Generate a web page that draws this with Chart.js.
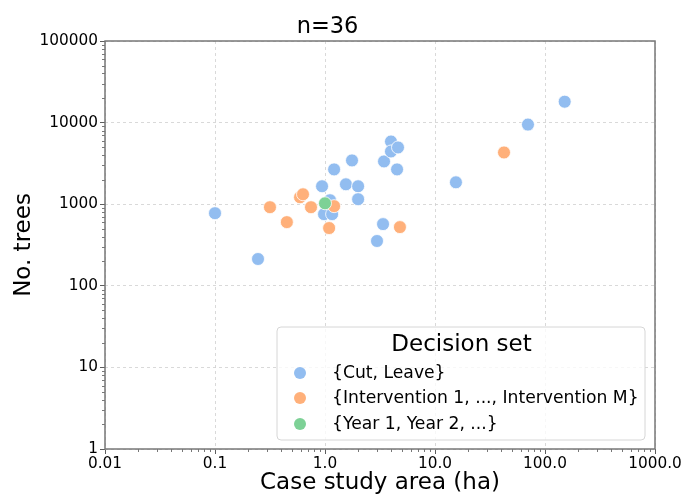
<!DOCTYPE html>
<html><head><meta charset="utf-8">
<script src="https://cdn.jsdelivr.net/npm/chart.js@4"></script>
<style>html,body{margin:0;padding:0;background:#fff}</style>
</head><body>
<canvas id="c" width="683" height="494" style="width:683px;height:494px;display:block"></canvas>
<script>
const xTickValues = [0.01, 0.1, 1, 10, 100, 1000];
const xTickLabels = ['0.01', '0.1', '1.0', '10.0', '100.0', '1000.0'];
const yTickValues = [1, 10, 100, 1000, 10000, 100000];
const yTickLabels = ['1', '10', '100', '1000', '10000', '100000'];

const seriesNames = ['{Cut, Leave}', '{Intervention 1, ..., Intervention M}', '{Year 1, Year 2, ...}'];
const seriesColors = ['#92bdf0', '#ffb07a', '#7dd196'];

const cutLeaveArea  = [0.1, 0.246, 0.94, 0.98, 1.16, 1.11, 1.21, 1.76, 1.55, 2.0, 2.0, 3.37, 2.97, 3.44, 3.98, 3.98, 4.61, 4.52, 15.5, 70, 151];
const cutLeaveTrees = [776, 213, 1660, 755, 755, 1119, 2670, 3440, 1754, 1660, 1151, 570, 354, 3345, 5865, 4430, 4960, 2670, 1855, 9460, 18030];

const interventionArea  = [1.21, 1.09, 0.45, 0.316, 0.746, 0.593, 0.631, 4.8, 42.4];
const interventionTrees = [946, 510, 603, 919, 919, 1217, 1324, 524, 4305];

const yearArea  = [1.0];
const yearTrees = [1026];

const toPts = (xs, ys) => xs.map((x, i) => ({x: x, y: ys[i]}));

const FONT = "'DejaVu Sans', sans-serif";

const framePlugin = {
  id: 'frame',
  afterDatasetsDraw(chart) {
    const ctx = chart.ctx;
    const {left, right, top, bottom} = chart.chartArea;
    const xs = chart.scales.x, ys = chart.scales.y;
    ctx.save();
    ctx.strokeStyle = '#555';
    ctx.lineWidth = 0.8;
    ctx.beginPath();
    for (let d = 0.01; d < 999; d *= 10) {
      for (let k = 2; k <= 9; k++) {
        const px = Math.round(xs.getPixelForValue(k * d)) + 0.5;
        ctx.moveTo(px, bottom); ctx.lineTo(px, bottom + 3);
      }
    }
    for (let d = 1; d < 99999; d *= 10) {
      for (let k = 2; k <= 9; k++) {
        const py = Math.round(ys.getPixelForValue(k * d)) + 0.5;
        ctx.moveTo(left, py); ctx.lineTo(left - 3, py);
      }
    }
    ctx.stroke();
    ctx.strokeStyle = '#777';
    ctx.lineWidth = 1.5;
    ctx.strokeRect(left, top, right - left, bottom - top);
    ctx.restore();
  },
  afterDraw(chart) {
    const ctx = chart.ctx;
    ctx.save();
    const bx = 277, by = 327, bw = 368, bh = 113, r = 4;
    ctx.beginPath();
    ctx.moveTo(bx + r, by);
    ctx.arcTo(bx + bw, by, bx + bw, by + bh, r);
    ctx.arcTo(bx + bw, by + bh, bx, by + bh, r);
    ctx.arcTo(bx, by + bh, bx, by, r);
    ctx.arcTo(bx, by, bx + bw, by, r);
    ctx.closePath();
    ctx.fillStyle = 'rgba(255,255,255,0.8)';
    ctx.fill();
    ctx.strokeStyle = '#d6d6d6';
    ctx.lineWidth = 1;
    ctx.stroke();
    ctx.fillStyle = '#000';
    ctx.textBaseline = 'middle';
    ctx.textAlign = 'center';
    ctx.font = '23px ' + FONT;
    ctx.fillText('Decision set', bx + bw / 2 + 0.5, 345);
    ctx.textAlign = 'left';
    ctx.font = '17.2px ' + FONT;
    const rowsY = [373, 398, 424];
    chart.data.datasets.forEach((ds, i) => {
      ctx.beginPath();
      ctx.arc(300, rowsY[i], 6, 0, Math.PI * 2);
      ctx.fillStyle = ds.backgroundColor;
      ctx.fill();
      ctx.fillStyle = '#000';
      ctx.fillText(ds.label, 332, rowsY[i] + 1);
    });
    ctx.restore();
  }
};

const orders = [2, 1, 0];

new Chart(document.getElementById('c'), {
  type: 'scatter',
  data: {
    datasets: [
      {label: seriesNames[0], data: toPts(cutLeaveArea, cutLeaveTrees), backgroundColor: seriesColors[0]},
      {label: seriesNames[1], data: toPts(interventionArea, interventionTrees), backgroundColor: seriesColors[1]},
      {label: seriesNames[2], data: toPts(yearArea, yearTrees), backgroundColor: seriesColors[2]}
    ].map((d, i) => Object.assign(d, {order: orders[i], pointRadius: 6.5, pointHoverRadius: 6.5, borderColor: '#ffffff', borderWidth: 0.8}))
  },
  options: {
    responsive: false,
    animation: false,
    devicePixelRatio: 1,
    layout: {padding: {left: 0, right: 28, top: -4, bottom: -3}},
    plugins: {
      legend: {display: false},
      tooltip: {enabled: false},
      title: {display: true, text: 'n=36', color: '#000', font: {family: FONT, size: 22.5, weight: 'normal'}, padding: {top: 18, bottom: 0}}
    },
    scales: {
      x: {
        type: 'logarithmic', min: 0.01, max: 1000,
        afterBuildTicks: s => { s.ticks = xTickValues.map(v => ({value: v})); },
        afterFit: s => { s.height = 48; },
        ticks: {
          autoSkip: false, maxRotation: 0, color: '#000', padding: 1,
          font: {family: FONT, size: 15.3},
          callback: (v) => xTickLabels[xTickValues.indexOf(v)] ?? ''
        },
        grid: {color: '#d0d0d0', tickColor: '#333', tickLength: 5, tickBorderDash: [], lineWidth: 0.8},
        border: {display: false, dash: [3, 3]},
        title: {display: true, text: 'Case study area (ha)', color: '#000', font: {family: FONT, size: 23}, padding: {top: 0, bottom: 0}}
      },
      y: {
        type: 'logarithmic', min: 1, max: 100000,
        afterBuildTicks: s => { s.ticks = yTickValues.map(v => ({value: v})); },
        afterFit: s => { s.width = 105; },
        ticks: {
          autoSkip: false, color: '#000', padding: 2,
          font: {family: FONT, size: 15.3},
          callback: (v) => yTickLabels[yTickValues.indexOf(v)] ?? ''
        },
        grid: {color: '#d0d0d0', tickColor: '#333', tickLength: 5, tickBorderDash: [], lineWidth: 0.8},
        border: {display: false, dash: [3, 3]},
        title: {display: true, text: 'No. trees', color: '#000', font: {family: FONT, size: 23}, padding: {top: 10, bottom: 0}}
      }
    }
  },
  plugins: [framePlugin]
});
</script>
</body></html>
